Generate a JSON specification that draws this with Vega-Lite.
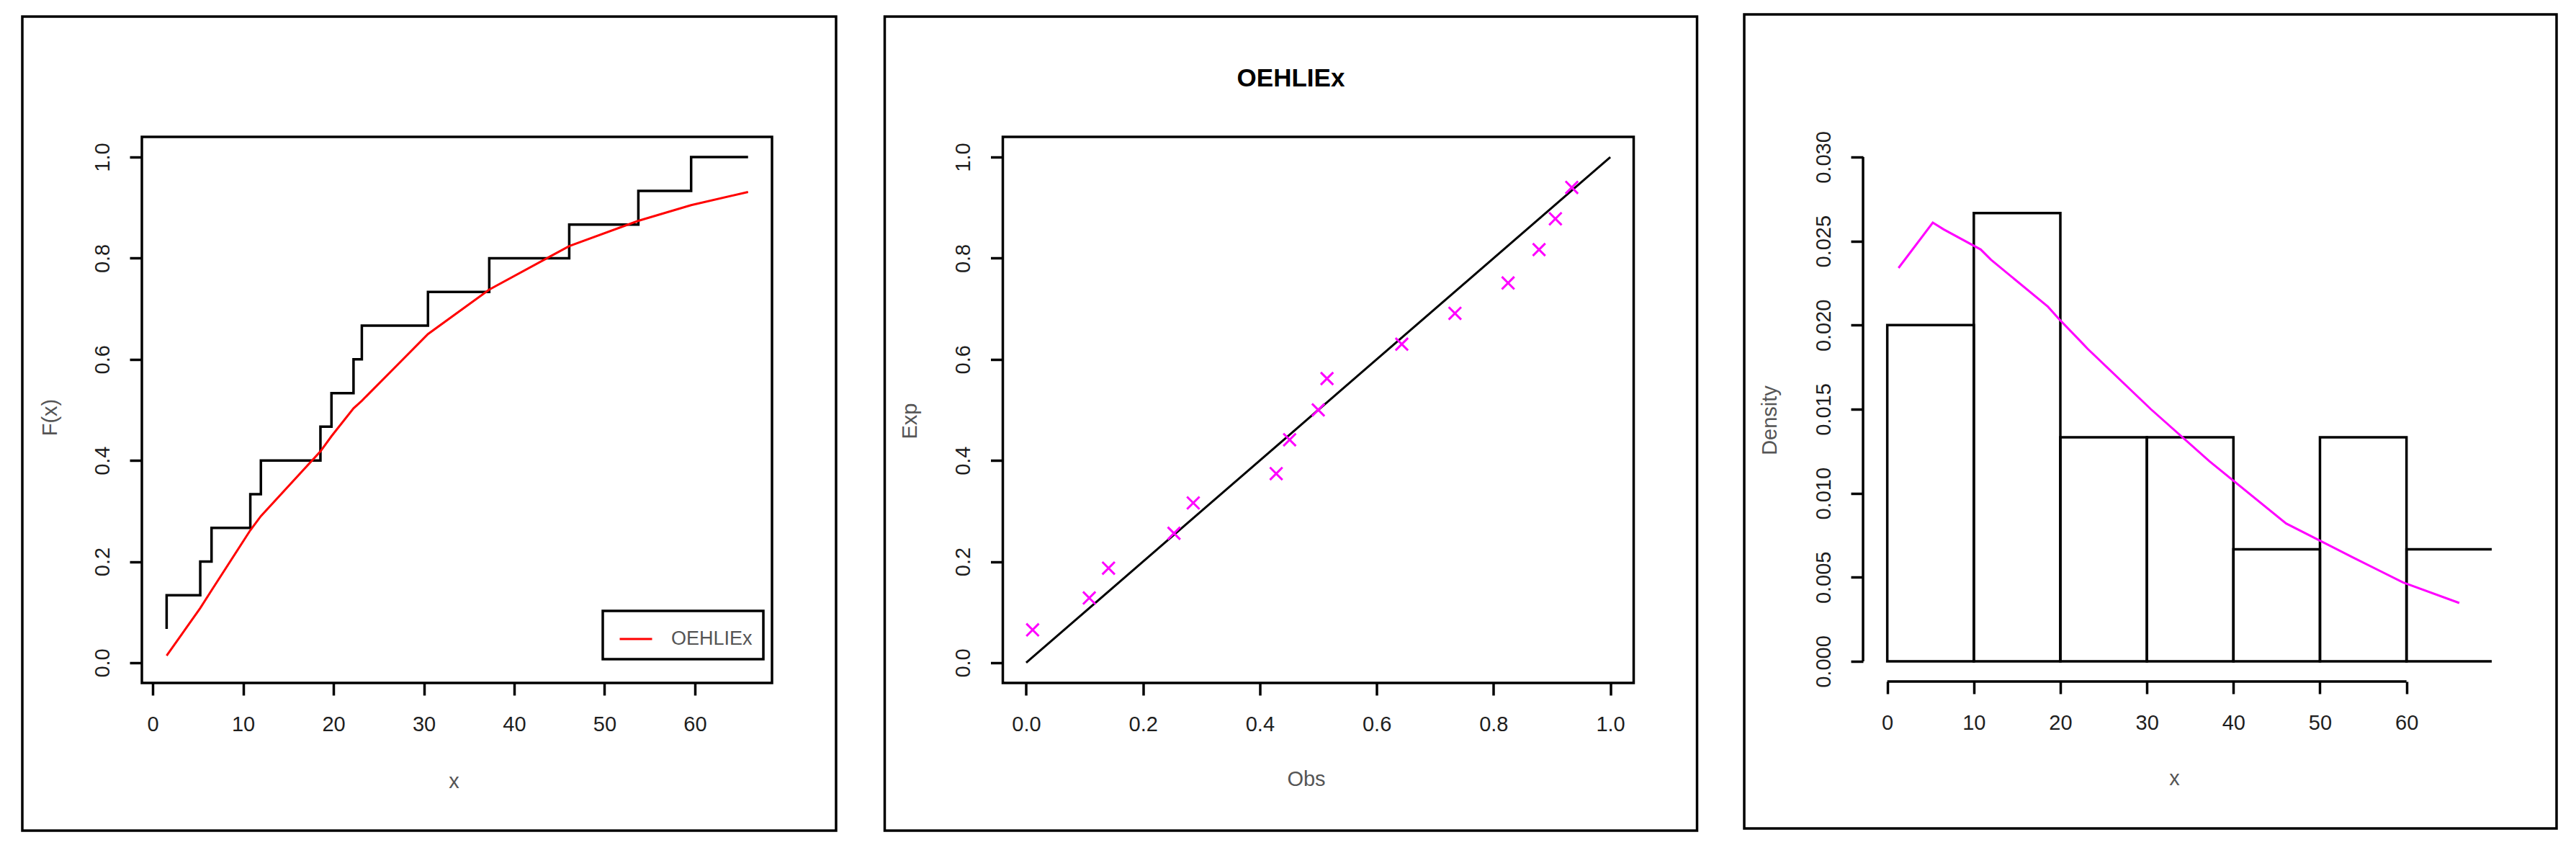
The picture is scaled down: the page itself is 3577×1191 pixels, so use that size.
{
  "$schema": "https://vega.github.io/schema/vega-lite/v6.json",
  "background": "white",
  "padding": {"left": 27, "top": 18, "right": 5, "bottom": 5},
  "autosize": {"type": "pad"},
  "align": "none",
  "bounds": "full",
  "spacing": 59.5,
  "resolve": {"scale": {"color": "independent"}, "legend": {"color": "independent"}},
  "datasets": {
    "ecdf": [
      {"x": 1.54, "Fn": 0.0667}, {"x": 5.26, "Fn": 0.1333}, {"x": 6.51, "Fn": 0.2},
      {"x": 10.8, "Fn": 0.2667}, {"x": 11.97, "Fn": 0.3333}, {"x": 18.56, "Fn": 0.4},
      {"x": 19.78, "Fn": 0.4667}, {"x": 22.22, "Fn": 0.5333}, {"x": 23.14, "Fn": 0.6},
      {"x": 30.46, "Fn": 0.6667}, {"x": 37.24, "Fn": 0.7333}, {"x": 46.09, "Fn": 0.8},
      {"x": 53.74, "Fn": 0.8667}, {"x": 59.58, "Fn": 0.9333}, {"x": 65.88, "Fn": 1.0}
    ],
    "fit": [
      {"x": 1.54, "F": 0.014, "model": "OEHLIEx"}, {"x": 5.26, "F": 0.108, "model": "OEHLIEx"},
      {"x": 6.51, "F": 0.143, "model": "OEHLIEx"}, {"x": 10.8, "F": 0.262, "model": "OEHLIEx"},
      {"x": 11.97, "F": 0.29, "model": "OEHLIEx"}, {"x": 18.56, "F": 0.418, "model": "OEHLIEx"},
      {"x": 19.78, "F": 0.448, "model": "OEHLIEx"}, {"x": 22.22, "F": 0.503, "model": "OEHLIEx"},
      {"x": 23.14, "F": 0.518, "model": "OEHLIEx"}, {"x": 30.46, "F": 0.65, "model": "OEHLIEx"},
      {"x": 37.24, "F": 0.738, "model": "OEHLIEx"}, {"x": 46.09, "F": 0.824, "model": "OEHLIEx"},
      {"x": 53.74, "F": 0.874, "model": "OEHLIEx"}, {"x": 59.58, "F": 0.905, "model": "OEHLIEx"},
      {"x": 65.88, "F": 0.931, "model": "OEHLIEx"}
    ],
    "pp": [
      {"obs": 0.011, "exp": 0.065}, {"obs": 0.108, "exp": 0.128}, {"obs": 0.141, "exp": 0.187},
      {"obs": 0.253, "exp": 0.256}, {"obs": 0.286, "exp": 0.316}, {"obs": 0.428, "exp": 0.374},
      {"obs": 0.451, "exp": 0.441}, {"obs": 0.5, "exp": 0.5}, {"obs": 0.515, "exp": 0.562},
      {"obs": 0.643, "exp": 0.63}, {"obs": 0.734, "exp": 0.691}, {"obs": 0.825, "exp": 0.751},
      {"obs": 0.878, "exp": 0.817}, {"obs": 0.906, "exp": 0.878}, {"obs": 0.934, "exp": 0.94}
    ],
    "hist": [
      {"lo": 0, "hi": 10, "density": 0.02}, {"lo": 10, "hi": 20, "density": 0.026667},
      {"lo": 20, "hi": 30, "density": 0.013333}, {"lo": 30, "hi": 40, "density": 0.013333},
      {"lo": 40, "hi": 50, "density": 0.006667}, {"lo": 50, "hi": 60, "density": 0.013333},
      {"lo": 60, "hi": 70, "density": 0.006667}
    ],
    "dens": [
      {"x": 1.3, "f": 0.0234}, {"x": 5.26, "f": 0.0261}, {"x": 6.51, "f": 0.0257},
      {"x": 10.8, "f": 0.0245}, {"x": 11.97, "f": 0.0239}, {"x": 18.56, "f": 0.0211},
      {"x": 19.78, "f": 0.0204}, {"x": 22.22, "f": 0.0191}, {"x": 23.14, "f": 0.0186},
      {"x": 30.46, "f": 0.015}, {"x": 37.24, "f": 0.0119}, {"x": 46.09, "f": 0.0082},
      {"x": 53.74, "f": 0.0062}, {"x": 59.58, "f": 0.0047}, {"x": 66.1, "f": 0.00347}
    ]
  },
  "config": {
    "font": "Liberation Sans",
    "view": {"stroke": null},
    "axis": {
      "grid": false, "domain": false, "ticks": true,
      "tickSize": 17, "tickWidth": 3.5, "tickColor": "#000000",
      "labelFont": "Liberation Sans", "labelFontSize": 29, "labelColor": "#1e1e1e",
      "labelFlush": false, "labelOverlap": false, "labelBound": false,
      "titleFont": "Liberation Sans", "titleFontSize": 29, "titleColor": "#555555",
      "titleFontWeight": "normal", "titleBaseline": "middle", "titleAlign": "center"
    },
    "axisX": {"labelAngle": 0, "labelBaseline": "middle", "labelAlign": "center", "labelPadding": 40, "titleAngle": 0},
    "axisY": {"labelAngle": -90, "labelBaseline": "middle", "labelAlign": "center", "labelPadding": 38, "titleAngle": -90},
    "legend": {"strokeColor": "#000000", "strokeWidth": 3.5, "fillColor": "#ffffff"}
  },
  "hconcat": [
    {
      "width": 875,
      "height": 758,
      "view": {"stroke": "#000000", "strokeWidth": 3.5},
      "layer": [
        {
          "data": {"values": [{}]},
          "mark": {"type": "rect", "filled": false, "color": "#000000", "strokeWidth": 3.5},
          "encoding": {
            "x": {"datum": -14.43, "type": "quantitative",
                  "scale": {"domain": [-1.2, 68.53], "nice": false, "zero": false},
                  "axis": {"title": "x", "values": [0, 10, 20, 30, 40, 50, 60], "format": "d", "titleX": 433, "titleY": 136}},
            "x2": {"datum": 75.62},
            "y": {"datum": 1.2779, "type": "quantitative",
                  "scale": {"domain": [-0.04, 1.04], "nice": false, "zero": false},
                  "axis": {"title": "F(x)", "values": [0, 0.2, 0.4, 0.6, 0.8, 1.0], "format": ".1f", "titleX": -128, "titleY": 389}},
            "y2": {"datum": -0.3321}
          }
        },
        {
          "data": {"name": "ecdf"},
          "mark": {"type": "line", "interpolate": "step-before", "color": "#000000", "strokeWidth": 3.5},
          "encoding": {
            "x": {"field": "x", "type": "quantitative", "axis": {"title": "x"}},
            "y": {"field": "Fn", "type": "quantitative", "axis": {"title": "F(x)"}}
          }
        },
        {
          "data": {"name": "fit"},
          "mark": {"type": "line", "strokeWidth": 3},
          "encoding": {
            "x": {"field": "x", "type": "quantitative", "axis": {"title": "x"}},
            "y": {"field": "F", "type": "quantitative", "axis": {"title": "F(x)"}},
            "color": {
              "field": "model", "type": "nominal",
              "scale": {"domain": ["OEHLIEx"], "range": ["#FF0000"]},
              "legend": {
                "title": null, "orient": "none", "legendX": 640, "legendY": 658,
                "padding": 15, "symbolType": "stroke", "symbolSize": 2025, "symbolStrokeWidth": 3,
                "symbolOffset": 7, "labelOffset": 25,
                "labelFont": "Liberation Sans", "labelFontSize": 27, "labelColor": "#555555",
                "strokeColor": "#000000"
              }
            }
          }
        }
      ]
    },
    {
      "width": 876,
      "height": 758,
      "view": {"stroke": "#000000", "strokeWidth": 3.5},
      "title": {
        "text": "OEHLIEx", "font": "Liberation Sans", "fontSize": 35, "fontWeight": "bold",
        "color": "#000000", "anchor": "middle", "frame": "bounds", "baseline": "alphabetic", "offset": -134
      },
      "layer": [
        {
          "data": {"values": [{}]},
          "mark": {"type": "rect", "filled": false, "color": "#000000", "strokeWidth": 3.5},
          "encoding": {
            "x": {"datum": -0.2422, "type": "quantitative",
                  "scale": {"domain": [-0.04, 1.04], "nice": false, "zero": false},
                  "axis": {"title": "Obs", "values": [0, 0.2, 0.4, 0.6, 0.8, 1.0], "format": ".1f", "titleX": 421, "titleY": 133}},
            "x2": {"datum": 1.1485},
            "y": {"datum": 1.2779, "type": "quantitative",
                  "scale": {"domain": [-0.04, 1.04], "nice": false, "zero": false},
                  "axis": {"title": "Exp", "values": [0, 0.2, 0.4, 0.6, 0.8, 1.0], "format": ".1f", "titleX": -129, "titleY": 394}},
            "y2": {"datum": -0.3321}
          }
        },
        {
          "data": {"values": [{}]},
          "mark": {"type": "rule", "color": "#000000", "strokeWidth": 3},
          "encoding": {
            "x": {"datum": 0, "type": "quantitative", "axis": {"title": "Obs"}},
            "y": {"datum": 0, "type": "quantitative", "axis": {"title": "Exp"}},
            "x2": {"datum": 1},
            "y2": {"datum": 1}
          }
        },
        {
          "data": {"name": "pp"},
          "mark": {"type": "point", "shape": "M-1,-1L1,1M-1,1L1,-1", "filled": false, "color": "#FF00FF",
                   "size": 300, "strokeWidth": 3, "opacity": 1},
          "encoding": {
            "x": {"field": "obs", "type": "quantitative", "axis": {"title": "Obs"}},
            "y": {"field": "exp", "type": "quantitative", "axis": {"title": "Exp"}}
          }
        }
      ]
    },
    {
      "width": 873,
      "height": 756,
      "view": {"stroke": null},
      "layer": [
        {
          "data": {"values": [{}]},
          "mark": {"type": "rect", "filled": false, "color": "#000000", "strokeWidth": 3.5},
          "encoding": {
            "x": {"datum": -16.53, "type": "quantitative",
                  "scale": {"domain": [-2.8, 69.85], "nice": false, "zero": false},
                  "axis": {"title": "x", "values": [0, 10, 20, 30, 40, 50, 60], "format": "d", "titleX": 432, "titleY": 134}},
            "x2": {"datum": 77.34},
            "y": {"datum": 0.038486, "type": "quantitative",
                  "scale": {"domain": [-0.0012, 0.0312], "nice": false, "zero": false},
                  "axis": {"title": "Density", "values": [0, 0.005, 0.01, 0.015, 0.02, 0.025, 0.03], "format": ".3f", "titleX": -130, "titleY": 393}},
            "y2": {"datum": -0.009943}
          }
        },
        {
          "data": {"name": "hist"},
          "mark": {"type": "rect", "filled": false, "color": "#000000", "strokeWidth": 3.5, "clip": true},
          "encoding": {
            "x": {"field": "lo", "type": "quantitative", "axis": {"title": "x"}},
            "x2": {"field": "hi"},
            "y": {"field": "density", "type": "quantitative", "axis": {"title": "Density"}},
            "y2": {"datum": 0}
          }
        },
        {
          "data": {"name": "dens"},
          "mark": {"type": "line", "color": "#FF00FF", "strokeWidth": 3},
          "encoding": {
            "x": {"field": "x", "type": "quantitative", "axis": {"title": "x"}},
            "y": {"field": "f", "type": "quantitative", "axis": {"title": "Density"}}
          }
        },
        {
          "data": {"values": [{}]},
          "mark": {"type": "rule", "color": "#000000", "strokeWidth": 3.5},
          "encoding": {
            "x": {"datum": 0, "type": "quantitative", "axis": {"title": "x"}},
            "x2": {"datum": 60},
            "y": {"datum": -0.0012, "type": "quantitative", "axis": {"title": "Density"}}
          }
        },
        {
          "data": {"values": [{}]},
          "mark": {"type": "rule", "color": "#000000", "strokeWidth": 3.5},
          "encoding": {
            "x": {"datum": -2.8, "type": "quantitative", "axis": {"title": "x"}},
            "y": {"datum": 0, "type": "quantitative", "axis": {"title": "Density"}},
            "y2": {"datum": 0.03}
          }
        }
      ]
    }
  ]
}
